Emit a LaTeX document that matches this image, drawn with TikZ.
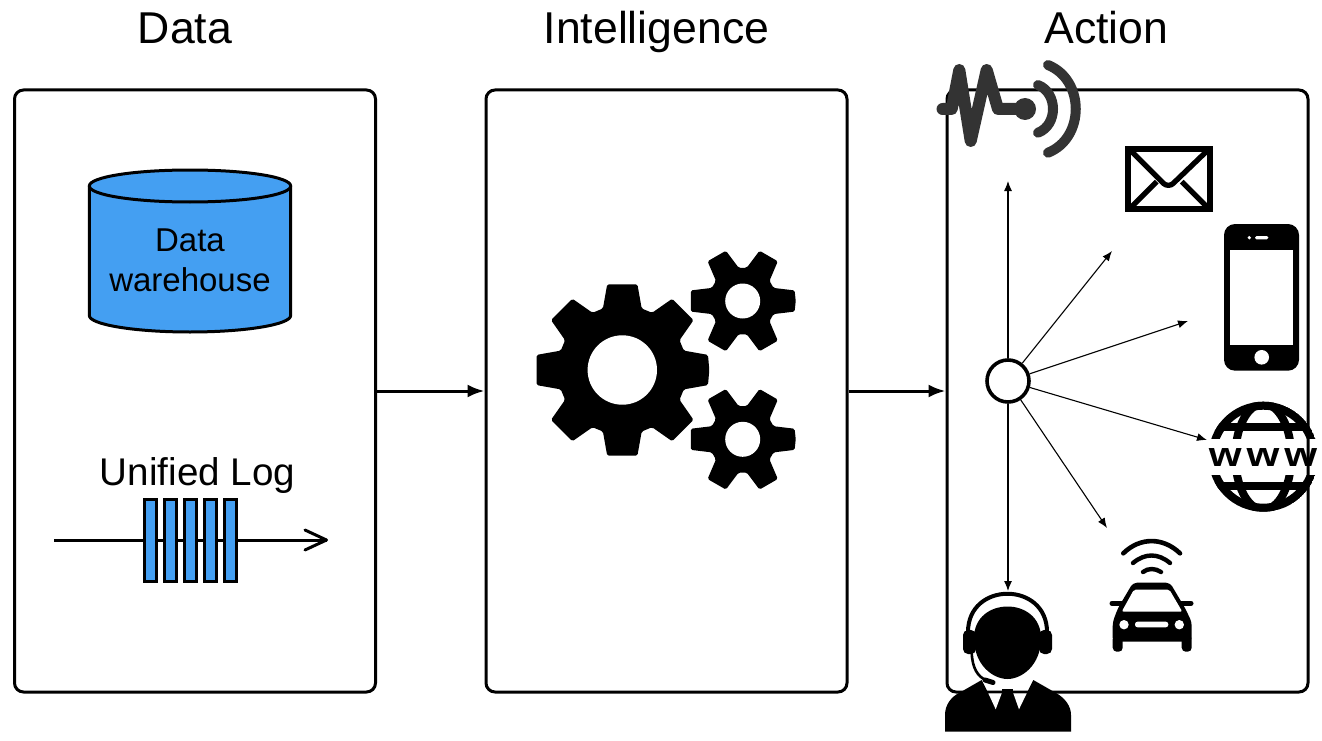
\documentclass[tikz,border=0pt]{standalone}
\usepackage{fontspec}
\setmainfont{Liberation Sans}
\usetikzlibrary{arrows.meta}
\definecolor{blueFill}{HTML}{449FF2}
\definecolor{sigGray}{HTML}{333333}
\newcommand{\mygear}[7]{% x,y,R,r,tipangle,baseangle,list
  \begin{scope}[shift={(#1,#2)}]
    \fill[rounded corners=1.6] (0:#3)
      foreach \a in {#7} {
        -- ({\a+#5}:#3) -- ({\a+#6}:#4) -- ({\a+\gstep-#6}:#4) -- ({\a+\gstep-#5}:#3)
      } -- cycle;
  \end{scope}}
\tikzset{
  panel/.style={draw=black,line width=3,rounded corners=9,fill=none},
  bigarrow/.style={line width=3,-{Latex[length=17,width=13]}},
  thinarrow/.style={line width=1.1,-{Latex[length=10,width=8]}},
  title/.style={font=\fontsize{44.6}{50}\selectfont,anchor=base,inner sep=0},
  body/.style={font=\fontsize{33}{40}\selectfont,anchor=base,inner sep=0},
  logbar/.style={draw=black,line width=3,fill=blueFill},
  sigline/.style={draw=sigGray,line cap=round,line join=round},
  hubnode/.style={circle,draw=black,fill=white,line width=3.6,minimum size=42,inner sep=0},
}
\begin{document}
\begin{tikzpicture}[x=1pt,y=-1pt]
\useasboundingbox (0,0) rectangle (1322,741);
% titles
\node[title] (tdata) at (185,44) {Data};
\node[title] (tintel) at (656.5,44) {Intelligence};
\node[title] (taction) at (1106.5,44) {Action};
% panels
\node[panel,minimum width=361,minimum height=602,inner sep=0] (data) at (195,391) {};
\node[panel,minimum width=361,minimum height=602,inner sep=0] (intel) at (666.5,391) {};
\node[panel,minimum width=361,minimum height=602,inner sep=0] (action) at (1127.5,391) {};
\draw[bigarrow] (data) -- (intel);
\draw[bigarrow] (intel) -- (action);
% cylinder
\path[fill=blueFill,draw=black,line width=3] (89.3,186) -- (89.3,315.5)
  .. controls (89.3,324.5) and (134,332) .. (190,332)
  .. controls (246,332) and (290.7,324.5) .. (290.7,315.5) -- (290.7,186)
  .. controls (290.7,177) and (246,170) .. (190,170)
  .. controls (134,170) and (89.3,177) .. (89.3,186) -- cycle;
\draw[line width=3] (89.3,186) .. controls (89.3,195) and (134,202) .. (190,202)
  .. controls (246,202) and (290.7,195) .. (290.7,186);
\node[body] (dw1) at (190,251) {Data};
\node[body] (dw2) at (190,291) {warehouse};
% log
\node[body,font=\fontsize{38.6}{44}\selectfont] (logtxt) at (197.5,485) {Unified Log};
\coordinate (logs) at (54,540);
\coordinate (loge) at (326.5,540);
\draw[line width=3] (logs) -- (loge);
\draw[line width=3,line cap=round,line join=round] (305,530) -- (loge) -- (305,550);
\foreach \x in {144,164,184,204,224}
  \draw[logbar] (\x,499.5) rectangle (\x+12,581);
% gears
\def\gstep{45}
\mygear{622.3}{370}{87}{64.5}{10}{17.5}{0,45,90,135,180,225,270,315}
\fill[white] (622.3,370) circle (34.7);
\def\gstep{60}
\mygear{742.7}{301}{53}{33.5}{11.5}{23}{0,60,120,180,240,300}
\fill[white] (742.7,301) circle (17.5);
\mygear{742.7}{439.3}{53}{33.5}{11.5}{23}{0,60,120,180,240,300}
\fill[white] (742.7,439.3) circle (17.5);
% hub and spokes
\node[hubnode] (hub) at (1008,381) {};
\coordinate (e1) at (1008,181);
\coordinate (e2) at (1112,251);
\coordinate (e3) at (1188,321);
\coordinate (e4) at (1207,440);
\coordinate (e5) at (1107,528);
\coordinate (e6) at (1008,591);
\foreach \e in {e1,e2,e3,e4,e5,e6} \draw[thinarrow] (hub) -- (\e);
% signal icon
\draw[sigline,line width=12] (942.5,109) -- (951.7,109) -- (959.3,70) -- (970.7,141) -- (986.7,70) -- (998,109) -- (1025,109);
\fill[sigGray] (1025,109) circle (11);
\draw[sigline,line width=10] (1038,85) .. controls (1058,93) and (1058,125) .. (1038,132.7);
\draw[sigline,line width=10] (1048,65) .. controls (1085,80) and (1085,138) .. (1048,152.7);
% envelope
\draw[line width=5.8] (1128,149) rectangle (1210.3,209.3);
\draw[line width=5.3,line join=round] (1130,150) -- (1163.3,183.3) .. controls (1166,186) and (1171,186) .. (1173.3,183.3) -- (1208,150);
\draw[line width=5.3] (1131.7,206.7) -- (1156.7,181.7);
\draw[line width=5.3] (1206.7,206.7) -- (1181.7,181.7);
% phone
\fill[rounded corners=11] (1224,224) rectangle (1299,370.7);
\fill[white] (1230,250) rectangle (1293.3,345);
\fill[white] (1261.7,357.3) circle (7.3);
\fill[white,rounded corners=1.5] (1255,236) rectangle (1268.3,239.3);
\fill[white] (1249.3,237.7) circle (1.8);
% globe
\begin{scope}
  \clip (1200,395) rectangle (1322,438.3);
  \clip (1263.3,456.7) circle (55);
  \draw[line width=8] (1263.3,456.7) circle (51);
  \draw[line width=8] (1263.3,456.7) ellipse (28 and 53);
  \draw[line width=8.3] (1205,427.3) -- (1322,427.3);
\end{scope}
\begin{scope}
  \clip (1200,475) rectangle (1322,518);
  \clip (1263.3,456.7) circle (55);
  \draw[line width=8] (1263.3,456.7) circle (51);
  \draw[line width=8] (1263.3,456.7) ellipse (28 and 53);
  \draw[line width=8.3] (1205,486) -- (1322,486);
\end{scope}
\node[inner sep=0,font=\fontsize{34}{40}\selectfont\bfseries,anchor=base] (www) at (1263,466) {\scalebox{1.24}[1]{w\kern4pt w\kern4pt w}};
% car
\draw[line width=4.6,line cap=round] (1123.3,553.3) .. controls (1140,537) and (1163,537) .. (1180,553.3);
\draw[line width=4.4,line cap=round] (1133,563) .. controls (1145,553) and (1158,553) .. (1170,563);
\draw[line width=4.4,line cap=round] (1143,572) .. controls (1148,568) and (1155,568) .. (1161,572);
\fill[rounded corners=4] (1133,582.7) -- (1170,582.7) -- (1185,608) -- (1191.7,622) -- (1191.7,641.7) -- (1112.7,641.7) -- (1112.7,622) -- (1118,608) -- cycle;
\draw[line width=5,line cap=round] (1112,603.3) -- (1123,603.3);
\draw[line width=5,line cap=round] (1180,603.3) -- (1191,603.3);
\fill[rounded corners=4] (1112.7,635) rectangle (1122.7,651.7);
\fill[rounded corners=4] (1181.7,635) rectangle (1191.7,651.7);
\fill[white,rounded corners=2] (1134,589.5) -- (1169.3,589.5) -- (1182.3,611.7) -- (1121.7,611.7) -- cycle;
\fill[white] (1124,624.7) circle (4.7);
\fill[white] (1179.3,624.7) circle (4.7);
\fill[white,rounded corners=2.5] (1135,621.7) rectangle (1168.3,627.3);
% agent
\draw[line width=4] (968,632) .. controls (968,581) and (1047,581) .. (1047,632);
\fill (974,638) .. controls (974,596) and (1041,596) .. (1041,638)
  .. controls (1041,665) and (1022,679) .. (1007.5,679)
  .. controls (993,679) and (974,665) .. (974,638) -- cycle;
\fill[rounded corners=5] (963,630) rectangle (976,654);
\fill[rounded corners=5] (1039,630) rectangle (1052,654);
\draw[line width=2.6] (971.7,652) .. controls (972,668) and (978,677) .. (986,680);
\draw[line width=5,line cap=round] (985,680) -- (993,682.5);
\fill (945,731.7) -- (945,715) .. controls (945,705) and (951,697) .. (959,693) -- (981.7,680) -- (988.3,693.3) -- (1026.7,693.3) -- (1033.3,680) -- (1056,693) .. controls (1065,698) and (1071,706) .. (1071,715) -- (1071,731.7) -- cycle;
\fill[white] (988.3,693.3) -- (1001.7,693.3) -- (995.7,709.3) -- cycle;
\fill[white] (1013.3,693.3) -- (1026.7,693.3) -- (1019,709.3) -- cycle;
\fill (1001.7,689.3) rectangle (1012.7,694);
\end{tikzpicture}
\end{document}
